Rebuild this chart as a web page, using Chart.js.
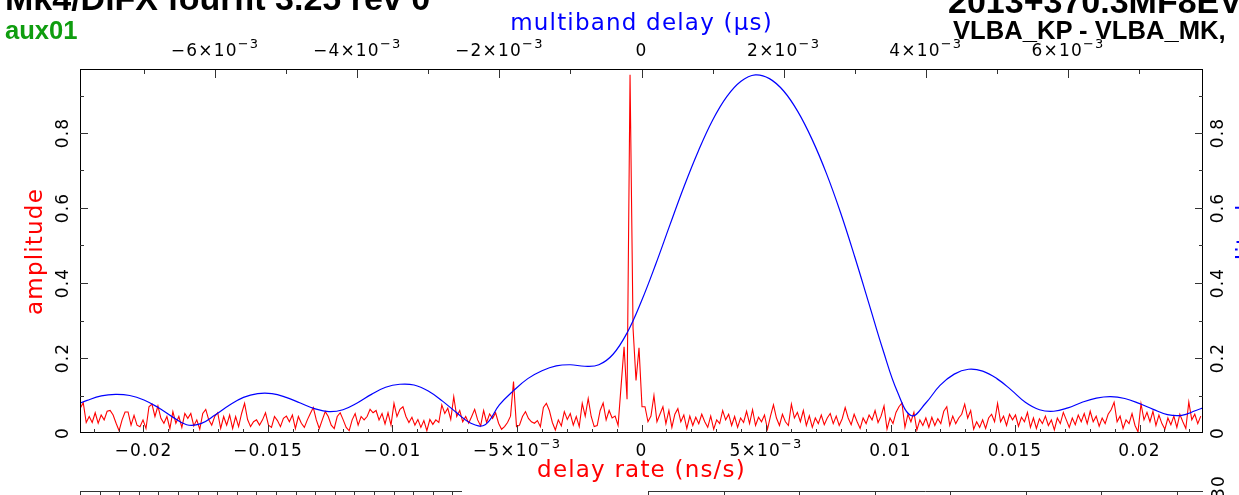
<!DOCTYPE html>
<html>
<head>
<meta charset="utf-8">
<script src="https://cdn.jsdelivr.net/npm/chart.js@4.4.1/dist/chart.umd.min.js"></script>
<style>
  html, body { margin: 0; padding: 0; background: #fff; overflow: hidden; }
  #wrap { position: relative; width: 1239px; height: 495px; overflow: hidden; }
  #plot { position: absolute; left: 0; top: 0; }
  .hdr { position: absolute; font-family: "Liberation Sans", Arial, sans-serif; font-weight: bold;
         white-space: nowrap; line-height: 1; color: #000; }
</style>
</head>
<body>
<div id="wrap">
  <canvas id="plot" width="1239" height="495"></canvas>
  <div class="hdr" style="left:5px; top:-19px; font-size:34px;">Mk4/DiFX fourfit 3.25 rev 0</div>
  <div class="hdr" style="left:5px; top:18px; font-size:25.6px; color:#0f9d0f;">aux01</div>
  <div class="hdr" style="left:948px; top:-16px; font-size:34px;">2013+370.3MF8EV</div>
  <div class="hdr" style="left:953px; top:18px; font-size:25.6px;">VLBA_KP - VLBA_MK,</div>
</div>
<script>
// delay rate spectrum, sampled every rateStep ns/s from rateStart
const rateStart = -0.02254;
const rateStep = 0.00012;
const rateAmp = [
  0.066, 0.081, 0.028, 0.044, 0.028, 0.054, 0.026, 0.048, 0.035, 0.058,
  0.060, 0.048, 0.026, 0.006, 0.035, 0.056, 0.056, 0.021, 0.047, 0.021,
  0.017, 0.035, 0.012, 0.070, 0.077, 0.044, 0.072, 0.039, 0.026, 0.044,
  0.012, 0.057, 0.026, 0.044, 0.015, 0.052, 0.039, 0.052, 0.019, 0.035,
  0.010, 0.052, 0.063, 0.035, 0.021, 0.044, 0.054, 0.012, 0.044, 0.021,
  0.048, 0.012, 0.044, 0.017, 0.052, 0.079, 0.036, 0.017, 0.030, 0.035,
  0.021, 0.035, 0.054, 0.021, 0.015, 0.044, 0.033, 0.017, 0.039, 0.045,
  0.030, 0.048, 0.012, 0.044, 0.026, 0.015, 0.035, 0.052, 0.068, 0.035,
  0.012, 0.035, 0.057, 0.044, 0.021, 0.012, 0.044, 0.054, 0.035, 0.015,
  0.006, 0.035, 0.052, 0.021, 0.044, 0.035, 0.044, 0.063, 0.054, 0.060,
  0.035, 0.052, 0.024, 0.054, 0.021, 0.079, 0.044, 0.063, 0.070, 0.044,
  0.028, 0.042, 0.021, 0.036, 0.015, 0.033, 0.006, 0.036, 0.023, 0.035,
  0.028, 0.075, 0.052, 0.066, 0.036, 0.097, 0.044, 0.060, 0.030, 0.044,
  0.026, 0.044, 0.063, 0.035, 0.019, 0.060, 0.028, 0.051, 0.039, 0.054,
  0.026, 0.010, 0.017, 0.028, 0.045, 0.137, 0.017, 0.021, 0.044, 0.057,
  0.039, 0.030, 0.026, 0.033, 0.017, 0.068, 0.079, 0.060, 0.028, 0.008,
  0.035, 0.019, 0.057, 0.036, 0.052, 0.021, 0.044, 0.017, 0.079, 0.045,
  0.092, 0.044, 0.017, 0.020, 0.060, 0.080, 0.035, 0.060, 0.040, 0.045,
  0.020, 0.125, 0.230, 0.090, 0.955, 0.280, 0.140, 0.227, 0.070, 0.070,
  0.030, 0.045, 0.100, 0.030, 0.050, 0.070, 0.025, 0.060, 0.015, 0.050,
  0.065, 0.030, 0.048, 0.012, 0.045, 0.020, 0.042, 0.025, 0.050, 0.030,
  0.015, 0.045, 0.010, 0.035, 0.025, 0.060, 0.035, 0.050, 0.020, 0.044,
  0.015, 0.040, 0.028, 0.058, 0.025, 0.062, 0.020, 0.042, 0.030, 0.048,
  0.010, 0.045, 0.075, 0.040, 0.020, 0.050, 0.030, 0.020, 0.077, 0.040,
  0.055, 0.030, 0.060, 0.020, 0.046, 0.015, 0.040, 0.025, 0.048, 0.022,
  0.040, 0.052, 0.025, 0.045, 0.020, 0.038, 0.068, 0.040, 0.022, 0.050,
  0.030, 0.012, 0.040, 0.025, 0.048, 0.035, 0.060, 0.028, 0.045, 0.072,
  0.010, 0.040, 0.025, 0.055, 0.070, 0.080, 0.015, 0.050, 0.030, 0.055,
  0.008, 0.035, 0.020, 0.040, 0.015, 0.042, 0.020, 0.038, 0.025, 0.058,
  0.070, 0.020, 0.045, 0.025, 0.040, 0.050, 0.077, 0.040, 0.060, 0.010,
  0.030, 0.015, 0.035, 0.012, 0.040, 0.050, 0.030, 0.079, 0.030, 0.045,
  0.020, 0.050, 0.035, 0.048, 0.018, 0.042, 0.030, 0.055, 0.015, 0.040,
  0.012, 0.038, 0.025, 0.045, 0.020, 0.035, 0.008, 0.040, 0.025, 0.055,
  0.035, 0.015, 0.040, 0.022, 0.048, 0.030, 0.052, 0.025, 0.058, 0.030,
  0.045, 0.018, 0.040, 0.025, 0.050, 0.062, 0.082, 0.030, 0.045, 0.012,
  0.035, 0.025, 0.052, 0.020, 0.003, 0.078, 0.035, 0.055, 0.030, 0.058,
  0.020, 0.048, 0.025, 0.010, 0.040, 0.022, 0.045, 0.015, 0.050, 0.030,
  0.012, 0.083, 0.035, 0.050, 0.025, 0.045
];

// multiband delay function, sampled every mbdStep us from mbdStart
const mbdStart = -0.008;
const mbdStep = 0.0002;
const mbdAmp = [
  0.072, 0.087, 0.099, 0.103, 0.100, 0.088, 0.068, 0.043, 0.022, 0.025,
  0.048, 0.074, 0.095, 0.105, 0.105, 0.095, 0.080, 0.065, 0.057, 0.062,
  0.080, 0.103, 0.122, 0.130, 0.128, 0.112, 0.085, 0.054, 0.026, 0.022,
  0.075, 0.113, 0.145, 0.166, 0.179, 0.182, 0.178, 0.182, 0.210, 0.268,
  0.352, 0.450, 0.555, 0.658, 0.752, 0.834, 0.897, 0.938, 0.955, 0.945,
  0.912, 0.857, 0.783, 0.693, 0.588, 0.470, 0.345, 0.220, 0.110, 0.046,
  0.080, 0.127, 0.157, 0.170, 0.165, 0.145, 0.115, 0.082, 0.062, 0.058,
  0.067, 0.082, 0.093, 0.097, 0.092, 0.079, 0.063, 0.049, 0.047, 0.060,
  0.074
];

// tick values and their labels; '^' marks the start of an exponent
const rateTicks = [-0.02, -0.015, -0.01, -0.005, 0, 0.005, 0.01, 0.015, 0.02];
const rateTickLabels = ['\u22120.02', '\u22120.015', '\u22120.01', '\u22125\u00d710^\u22123', '0',
                        '5\u00d710^\u22123', '0.01', '0.015', '0.02'];
const mbdTicks = [-0.006, -0.004, -0.002, 0, 0.002, 0.004, 0.006];
const mbdTickLabels = ['\u22126\u00d710^\u22123', '\u22124\u00d710^\u22123', '\u22122\u00d710^\u22123', '0',
                       '2\u00d710^\u22123', '4\u00d710^\u22123', '6\u00d710^\u22123'];
const ampTicks = [0, 0.2, 0.4, 0.6, 0.8];
const ampTickLabels = ['0', '0.2', '0.4', '0.6', '0.8'];

const RED = '#ff0000';
const BLUE = '#0000ff';
const FONT = 'DejaVu Sans';

const rateData = rateAmp.map((a, i) => ({ x: rateStart + i * rateStep, y: a }));
const mbdData = mbdAmp.map((a, i) => ({ x: mbdStart + i * mbdStep, y: a }));

// label with a raised exponent, centred as a whole on cx
function drawTickLabel(ctx, text, cx, baseY) {
  const parts = text.split('^');
  const mainFont = '17px "' + FONT + '"';
  const expFont = '13px "' + FONT + '"';
  ctx.font = mainFont;
  const wMain = ctx.measureText(parts[0]).width;
  let wExp = 0;
  if (parts[1]) {
    ctx.font = expFont;
    wExp = ctx.measureText(parts[1]).width;
  }
  const x0 = cx - (wMain + wExp) / 2;
  ctx.font = mainFont;
  ctx.fillText(parts[0], x0, baseY);
  if (parts[1]) {
    ctx.font = expFont;
    ctx.fillText(parts[1], x0 + wMain, baseY - 8);
  }
}

// pgplot style: frame, inward ticks on all four sides, x tick labels, right axis label
const framePlugin = {
  id: 'frame',
  beforeDraw(chart) {
    chart.ctx.letterSpacing = '1.2px';
  },
  afterDatasetsDraw(chart) {
    const ctx = chart.ctx;
    const a = chart.chartArea;
    const sx = chart.scales.x, sx2 = chart.scales.x2, sy = chart.scales.y;
    ctx.save();
    ctx.strokeStyle = '#000';
    ctx.lineWidth = 1;
    ctx.strokeRect(a.left + 0.5, a.top - 0.5, a.right - a.left - 1, a.bottom - a.top);

    const tick = (x1, y1, x2, y2) => {
      ctx.beginPath(); ctx.moveTo(x1, y1); ctx.lineTo(x2, y2); ctx.stroke();
    };
    ctx.strokeStyle = '#333';
    // delay rate ticks (bottom)
    for (let k = -22; k <= 22; k++) {
      const p = Math.round(sx.getPixelForValue(k * 0.001)) + 0.5;
      const len = k % 5 === 0 ? 8 : 4;
      tick(p, a.bottom, p, a.bottom - len);
    }
    // multiband delay ticks (top)
    for (let k = -7; k <= 7; k++) {
      const p = Math.round(sx2.getPixelForValue(k * 0.001)) + 0.5;
      const len = k % 2 === 0 ? 8 : 4;
      tick(p, a.top, p, a.top + len);
    }
    // amplitude ticks (left and right)
    for (let k = 1; k <= 9; k++) {
      const p = Math.round(sy.getPixelForValue(k * 0.1)) + 0.5;
      const len = k % 2 === 0 ? 8 : 4;
      tick(a.left, p, a.left + len, p);
      tick(a.right, p, a.right - len, p);
    }

    ctx.fillStyle = '#000';
    ctx.textAlign = 'left';
    ctx.textBaseline = 'alphabetic';
    rateTicks.forEach((v, i) => drawTickLabel(ctx, rateTickLabels[i], sx.getPixelForValue(v), a.bottom + 23));
    mbdTicks.forEach((v, i) => drawTickLabel(ctx, mbdTickLabels[i], sx2.getPixelForValue(v), a.top - 14));
    ctx.restore();
  },
  afterDraw(chart) {
    const ctx = chart.ctx;
    const a = chart.chartArea;
    ctx.save();
    // right axis label, mostly beyond the canvas edge
    ctx.translate(a.right + 50, (a.top + a.bottom) / 2);
    ctx.rotate(-Math.PI / 2);
    ctx.font = '23px "' + FONT + '"';
    ctx.fillStyle = BLUE;
    ctx.textAlign = 'center';
    ctx.textBaseline = 'alphabetic';
    ctx.fillText('amplitude', 0, 0);
    ctx.restore();

    // top edges of the panels below
    ctx.save();
    ctx.strokeStyle = '#333';
    ctx.lineWidth = 1;
    ctx.beginPath();
    ctx.moveTo(80, 491.5); ctx.lineTo(462, 491.5);
    ctx.moveTo(648, 491.5); ctx.lineTo(1203, 491.5);
    for (let x = 80; x <= 462; x += 19.6) { ctx.moveTo(Math.round(x) + 0.5, 491.5); ctx.lineTo(Math.round(x) + 0.5, 495); }
    for (let x = 648; x <= 1203; x += 75.5) { ctx.moveTo(Math.round(x) + 0.5, 491.5); ctx.lineTo(Math.round(x) + 0.5, 495); }
    ctx.stroke();
    ctx.translate(1220, 487);
    ctx.rotate(-Math.PI / 2);
    ctx.font = '17px "' + FONT + '"';
    ctx.fillStyle = '#000';
    ctx.textAlign = 'center';
    ctx.textBaseline = 'middle';
    ctx.fillText('30', 0, 0);
    ctx.restore();
  }
};

const tickFont = { family: FONT, size: 17 };
const titleFont = { family: FONT, size: 23 };

new Chart(document.getElementById('plot'), {
  type: 'line',
  data: {
    datasets: [
      {
        label: 'multiband delay',
        data: mbdData,
        xAxisID: 'x2',
        yAxisID: 'y',
        borderColor: BLUE,
        borderWidth: 1.2,
        pointRadius: 0,
        tension: 0.4,
        clip: 0
      },
      {
        label: 'delay rate',
        data: rateData,
        xAxisID: 'x',
        yAxisID: 'y',
        borderColor: RED,
        borderWidth: 1.1,
        pointRadius: 0,
        tension: 0,
        clip: 0
      }
    ]
  },
  options: {
    responsive: false,
    animation: false,
    events: [],
    layout: { padding: 0 },
    plugins: { legend: { display: false }, tooltip: { enabled: false } },
    scales: {
      x: {
        type: 'linear', position: 'bottom', min: -0.02255, max: 0.02255,
        afterBuildTicks: (s) => { s.ticks = rateTicks.map(v => ({ value: v })); },
        afterFit: (s) => { s.height = 62; },
        grid: { display: false, drawTicks: false }, border: { display: false },
        ticks: { display: false },
        title: { display: true, text: 'delay rate (ns/s)', color: RED, font: titleFont,
                 padding: { top: 0, bottom: 10 } }
      },
      x2: {
        type: 'linear', position: 'top', min: -0.0079, max: 0.0079,
        afterBuildTicks: (s) => { s.ticks = mbdTicks.map(v => ({ value: v })); },
        afterFit: (s) => { s.height = 70; },
        grid: { display: false, drawTicks: false }, border: { display: false },
        ticks: { display: false },
        title: { display: true, text: 'multiband delay (\u00b5s)', color: BLUE, font: titleFont,
                 padding: { top: 10, bottom: 0 } }
      },
      y: {
        type: 'linear', position: 'left', min: 0, max: 0.968,
        afterBuildTicks: (s) => { s.ticks = ampTicks.map(v => ({ value: v })); },
        afterFit: (s) => { s.width = 80; },
        grid: { display: false, drawTicks: false }, border: { display: false },
        ticks: { font: tickFont, color: '#000', padding: 3, minRotation: 90, maxRotation: 90,
                 crossAlign: 'center', callback: (v, i) => ampTickLabels[i] },
        title: { display: true, text: 'amplitude', color: RED, font: titleFont,
                 padding: { top: 22, bottom: 0 } }
      },
      y2: {
        type: 'linear', position: 'right', min: 0, max: 0.968,
        afterBuildTicks: (s) => { s.ticks = ampTicks.map(v => ({ value: v })); },
        afterFit: (s) => { s.width = 36; },
        grid: { display: false, drawTicks: false }, border: { display: false },
        ticks: { font: tickFont, color: '#000', padding: 2, minRotation: 90, maxRotation: 90,
                 crossAlign: 'center', callback: (v, i) => ampTickLabels[i] }
      }
    }
  },
  plugins: [framePlugin]
});
</script>
</body>
</html>
